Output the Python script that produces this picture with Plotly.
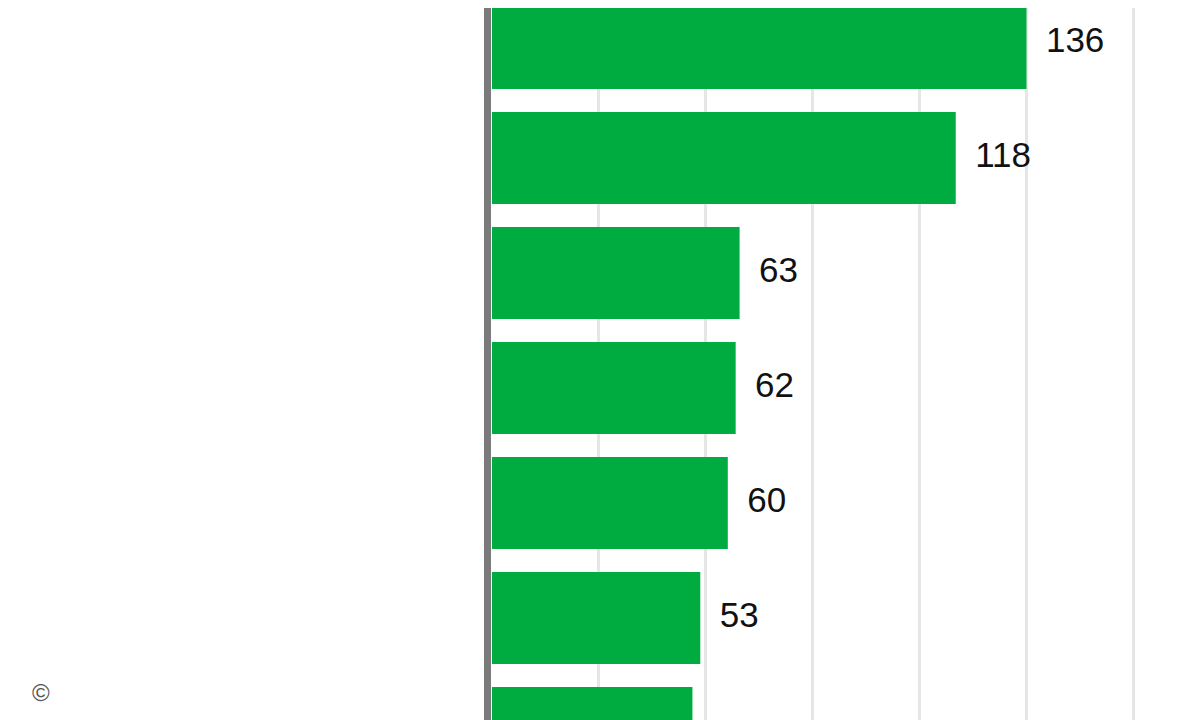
import plotly.graph_objects as go

categories = ["C2<br>(Malware)", "Backdoor<br>(Malware)", "Adminware<br>(Malware)",
              "Capture stored data<br>(Malware)", "Export data<br>(Malware)",
              "Downloader<br>(Malware)", "Spyware/Keylogger<br>(Malware)"]
values = [136, 118, 63, 62, 60, 53, 51]
grid_step = 27.2

ppu = 3.93
left = 484
xmax = (1200 - left) / ppu
ypos = list(range(len(categories)))

fig = go.Figure()
fig.add_trace(go.Bar(y=ypos, x=values, orientation="h", width=0.8,
                     marker=dict(color="#00ab3f", line=dict(width=0))))
fig.add_trace(go.Scatter(y=ypos, x=values, mode="text",
                         text=["  " + str(v) for v in values], textposition="middle right",
                         textfont=dict(size=35, color="#111", family="Liberation Sans"),
                         cliponaxis=False, showlegend=False))
fig.add_trace(go.Scatter(y=ypos, x=[-29 / ppu] * len(ypos), mode="text",
                         text=categories, textposition="middle left",
                         textfont=dict(size=33, color="#555", family="Liberation Sans"),
                         cliponaxis=False, showlegend=False))
fig.update_layout(
    width=1200, height=720, margin=dict(l=left, r=0, t=0, b=0, autoexpand=False),
    plot_bgcolor="white", paper_bgcolor="white", showlegend=False,
    font=dict(family="Liberation Sans"),
    xaxis=dict(range=[0, xmax], tickvals=[grid_step * i for i in range(1, 7)],
               showticklabels=False, showgrid=True, gridcolor="#e6e6e6", gridwidth=3,
               zeroline=False, automargin=False),
    yaxis=dict(range=[5.957, -0.304], showticklabels=False, showgrid=False,
               zeroline=False, automargin=False),
    shapes=[dict(type="rect", xref="paper", yref="paper", x0=-8/716, x1=-1/716,
                 y0=0, y1=1, fillcolor="#7a7a7a", line=dict(width=0))],
    annotations=[dict(text="©", xref="paper", yref="paper", x=-462/716, y=20/720,
                      showarrow=False, font=dict(size=24, color="#555"))],
)
fig.write_html("out.html")
